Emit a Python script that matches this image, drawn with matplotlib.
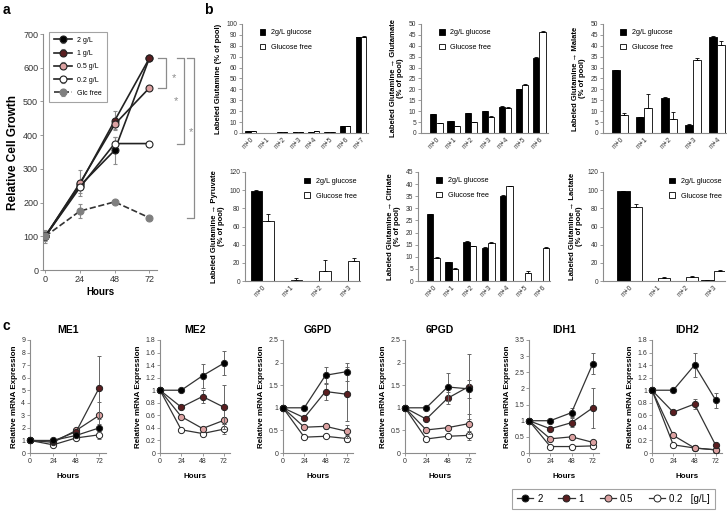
import numpy as np
import matplotlib
matplotlib.use("Agg")
import matplotlib.pyplot as plt
from matplotlib.lines import Line2D

plt.rcParams['font.family'] = ['Liberation Sans', 'DejaVu Sans']

W, H = 727, 515
fig = plt.figure(figsize=(W / 100, H / 100), dpi=100)

def ax_px(x0, y0, x1, y1):
    return fig.add_axes([x0 / W, 1 - y1 / H, (x1 - x0) / W, (y1 - y0) / H])

SP = '#8c8c8c'
BLK, MAR, PNK, WHT, GRY = '#000000', '#5a1e20', '#dca2a2', '#ffffff', '#7f7f7f'

def style(ax, fs):
    for s in ['top', 'right']:
        ax.spines[s].set_visible(False)
    for s in ['left', 'bottom']:
        ax.spines[s].set_color(SP)
        ax.spines[s].set_linewidth(0.8)
    ax.tick_params(colors=SP, labelcolor='#333333', labelsize=fs, length=2, width=0.6, pad=1.5)

# ---------------- Panel a data ----------------
hours = [0, 24, 48, 72]
a_labels = ['2 g/L', '1 g/L', '0.5 g/L', '0.2 g/L', 'Glc free']
a_2 = [100, 250, 355, 628]
a_2_err = [15, 10, 40, 5]
a_1 = [100, 255, 443, 628]
a_1_err = [10, 10, 28, 5]
a_05 = [100, 258, 432, 540]
a_05_err = [10, 38, 15, 5]
a_02 = [100, 245, 375, 375]
a_02_err = [10, 18, 20, 5]
a_gf = [100, 175, 202, 155]
a_gf_err = [20, 22, 5, 5]

ax = ax_px(43, 34, 157, 270)
style(ax, 6.5)
series_a = [(a_2, a_2_err, BLK, '-'), (a_1, a_1_err, MAR, '-'), (a_05, a_05_err, PNK, '-'),
            (a_02, a_02_err, WHT, '-'), (a_gf, a_gf_err, GRY, '--')]
for (vals, err, col, ls), lab in zip(series_a, a_labels):
    ax.errorbar(hours, vals, yerr=err, color='#222222' if col != GRY else '#333333', ls=ls, lw=1.2,
                marker='o', ms=5, mfc=col, mec='#222222' if col != GRY else GRY, mew=0.8,
                ecolor=SP, elinewidth=0.8, capsize=1.5, label=lab, zorder=3)
ax.set_xlim(-1.6, 77.3)
ax.set_ylim(0, 700)
ax.set_xticks(hours)
ax.set_yticks(range(0, 701, 100))
ax.set_xlabel('Hours', fontsize=7, fontweight='bold', labelpad=2)
ax.set_ylabel('Relative Cell Growth', fontsize=8.5, fontweight='bold', labelpad=3)
leg = ax.legend(loc='upper left', bbox_to_anchor=(49 / W, 1 - 32 / H), bbox_transform=fig.transFigure,
                fontsize=5, frameon=True, fancybox=False, borderaxespad=0, handlelength=2.6,
                labelspacing=0.9, borderpad=0.7)
leg.get_frame().set_edgecolor(SP)
leg.get_frame().set_linewidth(0.8)

# significance brackets (data coordinates beyond the axis; 1 h = 1.444 px)
def bracket(x0, x1, ytop, ybot, xs, ys):
    ax.plot([x0, x1, x1, x0], [ytop, ytop, ybot, ybot], color=SP, lw=0.9, clip_on=False)
    ax.text(xs, ys, '*', color=SP, fontsize=8, ha='center', va='center', clip_on=False)

bracket(78.2, 83.7, 628, 540, 89.0, 570)
bracket(91.4, 96.3, 628, 375, 90.5, 500)
bracket(97.8, 102.6, 628, 155, 101.0, 410)

fig.text(3 / W, 1 - 10 / H, 'a', fontsize=10, fontweight='bold', va='center')
fig.text(204 / W, 1 - 10 / H, 'b', fontsize=10, fontweight='bold', va='center')
fig.text(3 / W, 1 - 326 / H, 'c', fontsize=10, fontweight='bold', va='center')

# ---------------- Panel b data ----------------
gln_cats = ['m+0', 'm+1', 'm+2', 'm+3', 'm+4', 'm+5', 'm+6', 'm+7']
gln_glc = [2, 0.3, 0.5, 0.5, 1.0, 0.8, 6.5, 88]
gln_free = [2, 0.3, 0.5, 0.5, 1.5, 0.8, 6.0, 88.5]
gln_glc_err = [0.2, 0, 0, 0, 0.2, 0, 0.3, 0.4]
gln_free_err = [0.2, 0, 0, 0, 0.2, 0, 0.3, 0.4]

glu_cats = ['m+0', 'm+1', 'm+2', 'm+3', 'm+4', 'm+5', 'm+6']
glu_glc = [8.5, 5.5, 9.0, 10.0, 12.0, 20.0, 34.5]
glu_free = [4.5, 3.0, 5.0, 7.5, 11.5, 22.0, 46.5]
glu_glc_err = [0.2, 0.1, 0.2, 0.2, 0.2, 0.2, 0.2]
glu_free_err = [0.2, 0.2, 0.2, 0.2, 0.2, 0.5, 0.2]

mal_cats = ['m+0', 'm+1', 'm+2', 'm+3', 'm+4']
mal_glc = [28.8, 7.2, 16.0, 3.7, 44.2]
mal_free = [8.2, 11.6, 6.5, 33.7, 40.2]
mal_glc_err = [0.3, 0.2, 0.3, 0.3, 0.5]
mal_free_err = [1.0, 6.5, 3.0, 0.5, 2.0]

pyr_cats = ['m+0', 'm+1', 'm+2', 'm+3']
pyr_glc = [99.5, 0.0, 0.0, 0.5]
pyr_free = [66, 1.5, 11.5, 21.5]
pyr_glc_err = [0.3, 0, 0, 0]
pyr_free_err = [8, 1.5, 12, 4]

cit_cats = ['m+0', 'm+1', 'm+2', 'm+3', 'm+4', 'm+5', 'm+6']
cit_glc = [27.5, 7.8, 16.3, 13.8, 35.0, 0.0, 0.0]
cit_free = [9.7, 4.9, 14.3, 15.6, 39.2, 3.5, 13.7]
cit_glc_err = [0.3, 0.2, 0.2, 0.2, 0.3, 0, 0]
cit_free_err = [0.3, 0.6, 0.2, 0.3, 0.2, 0.8, 0.3]

lac_cats = ['m+0', 'm+1', 'm+2', 'm+3']
lac_glc = [99, 0.3, 0.5, 1.0]
lac_free = [82, 3.5, 4.5, 11]
lac_glc_err = [0.3, 0, 0, 0]
lac_free_err = [2.5, 0.5, 0.5, 1.0]

bar_labels = ['2g/L glucose', 'Glucose free']

def bar_panel(box, cats, glc, free, gerr, ferr, ymax, ystep, ylabel, xlim, bw, legloc):
    ax = ax_px(*box)
    style(ax, 4.8)
    x = np.arange(len(cats))
    ax.bar(x - bw / 2, glc, bw, color='black', edgecolor='black', lw=0.6,
           yerr=[np.zeros(len(gerr)), gerr], error_kw=dict(ecolor='black', elinewidth=0.6, capsize=1.2, capthick=0.6),
           label=bar_labels[0], zorder=2)
    ax.bar(x + bw / 2, free, bw, color='white', edgecolor='black', lw=0.6,
           yerr=[np.zeros(len(ferr)), ferr], error_kw=dict(ecolor='black', elinewidth=0.6, capsize=1.2, capthick=0.6),
           label=bar_labels[1], zorder=2)
    ax.set_xlim(*xlim)
    ax.set_ylim(0, ymax)
    ax.set_yticks(np.arange(0, ymax + 0.01, ystep))
    ax.set_xticks(x)
    ax.set_xticklabels(cats, rotation=45, ha='right', rotation_mode='anchor')
    ax.tick_params(axis='x', length=0, pad=2)
    ax.set_ylabel(ylabel, fontsize=5.5, fontweight='bold', labelpad=3, linespacing=1.1)
    if legloc == 'left':
        ax.legend(loc='upper left', bbox_to_anchor=(0.1, 1.0), fontsize=5.2, frameon=False,
                  handlelength=0.8, handleheight=0.8, labelspacing=1.0, borderaxespad=0.3)
    else:
        ax.legend(loc='upper right', bbox_to_anchor=(1.005, 0.98), fontsize=5.2, frameon=False,
                  handlelength=0.8, handleheight=0.8, labelspacing=1.0, borderaxespad=0.1)
    return ax

bar_panel((242, 24, 368, 133), gln_cats, gln_glc, gln_free, gln_glc_err, gln_free_err, 100, 10,
          'Labeled Glutamine (% of pool)', (-0.55, 7.45), 0.33, 'left')
bar_panel((421, 24, 548, 133), glu_cats, glu_glc, glu_free, glu_glc_err, glu_free_err, 50, 5,
          'Labeled Glutamine \u2192 Glutamate\n(% of pool)', (-0.9, 6.5), 0.36, 'left')
bar_panel((603, 24, 727, 133), mal_cats, mal_glc, mal_free, mal_glc_err, mal_free_err, 50, 5,
          'Labeled Glutamine \u2192 Malate\n(% of pool)', (-0.7, 4.4), 0.33, 'left')
bar_panel((245, 172, 360, 281), pyr_cats, pyr_glc, pyr_free, pyr_glc_err, pyr_free_err, 120, 20,
          'Labeled Glutamine \u2192 Pyruvate\n(% of pool)', (-0.6, 3.42), 0.4, 'right')
bar_panel((418, 172, 550, 281), cit_cats, cit_glc, cit_free, cit_glc_err, cit_free_err, 45, 5,
          'Labeled Glutamine \u2192 Citriate\n(% of pool)', (-0.85, 6.4), 0.36, 'left')
bar_panel((603, 172, 725, 281), lac_cats, lac_glc, lac_free, lac_glc_err, lac_free_err, 120, 20,
          'Labeled Glutamine \u2192 Lactate\n(% of pool)', (-0.95, 3.4), 0.45, 'right')

# ---------------- Panel c data ----------------
genes = ['ME1', 'ME2', 'G6PD', '6PGD', 'IDH1', 'IDH2']
conc_labels = ['2', '1', '0.5', '0.2']
conc_unit = '[g/L]'
me1 = [[1, 1.0, 1.4, 2.0], [1, 0.95, 1.7, 5.2], [1, 0.85, 1.8, 3.0], [1, 0.65, 1.2, 1.45]]
me1_err = [[0, 0.05, 0.1, 0.3], [0, 0.05, 0.2, 2.5], [0, 0.05, 0.2, 1.1], [0, 0.05, 0.1, 0.3]]
me2 = [[1, 1.0, 1.23, 1.43], [1, 0.73, 0.9, 0.73], [1, 0.58, 0.39, 0.52], [1, 0.37, 0.31, 0.38]]
me2_err = [[0, 0.03, 0.19, 0.19], [0, 0.03, 0.1, 0.35], [0, 0.02, 0.03, 0.06], [0, 0.02, 0.03, 0.08]]
g6pd = [[1, 1.0, 1.72, 1.8], [1, 0.78, 1.36, 1.3], [1, 0.57, 0.59, 0.48], [1, 0.35, 0.37, 0.32]]
g6pd_err = [[0, 0.02, 0.19, 0.2], [0, 0.03, 0.18, 0.6], [0, 0.02, 0.05, 0.15], [0, 0.02, 0.03, 0.08]]
pgd = [[1, 1.0, 1.46, 1.42], [1, 0.75, 1.21, 1.47], [1, 0.51, 0.56, 0.65], [1, 0.31, 0.37, 0.39]]
pgd_err = [[0, 0.02, 0.3, 0.2], [0, 0.03, 0.13, 0.72], [0, 0.02, 0.03, 0.22], [0, 0.02, 0.03, 0.1]]
idh1 = [[1, 1.0, 1.25, 2.77], [1, 0.75, 0.94, 1.4], [1, 0.44, 0.5, 0.33], [1, 0.2, 0.2, 0.22]]
idh1_err = [[0, 0.02, 0.15, 0.32], [0, 0.03, 0.15, 0.62], [0, 0.03, 0.04, 0.05], [0, 0.02, 0.02, 0.05]]
idh2 = [[1, 1.0, 1.4, 0.84], [1, 0.65, 0.78, 0.12], [1, 0.28, 0.08, 0.05], [1, 0.13, 0.08, 0.05]]
idh2_err = [[0, 0.02, 0.19, 0.12], [0, 0.03, 0.08, 0.03], [0, 0.02, 0.02, 0.02], [0, 0.02, 0.02, 0.02]]

c_data = [me1, me2, g6pd, pgd, idh1, idh2]
c_err = [me1_err, me2_err, g6pd_err, pgd_err, idh1_err, idh2_err]
c_ymax = [9, 1.8, 2.5, 2.5, 3.5, 1.8]
c_ystep = [1, 0.2, 0.5, 0.5, 0.5, 0.2]
c_x0 = [30, 160, 283, 405, 529, 652]
c_w = [76, 70, 70, 70, 70, 70]
c_cols = [BLK, MAR, PNK, WHT]

for i, g in enumerate(genes):
    x0 = c_x0[i]
    ax = ax_px(x0, 340, x0 + c_w[i], 453)
    style(ax, 5)
    for j in range(4):
        ax.errorbar(hours, c_data[i][j], yerr=c_err[i][j], color='#333333', lw=0.9, marker='o', ms=4.5,
                    mfc=c_cols[j], mec='#222222', mew=0.7, ecolor='#666666', elinewidth=0.7,
                    capsize=1.5, zorder=3 + (4 - j), clip_on=False)
    ax.set_xlim(0, 79)
    ax.set_ylim(0, c_ymax[i])
    ax.set_xticks(hours)
    yt = np.round(np.arange(0, c_ymax[i] + 1e-6, c_ystep[i]), 2)
    ax.set_yticks(yt)
    ax.set_yticklabels([('%g' % v) for v in yt])
    ax.set_title(g, fontsize=7.5, fontweight='bold', pad=5)
    ax.set_xlabel('Hours', fontsize=5.8, fontweight='bold', labelpad=6)
    ax.set_ylabel('Relative mRNA Expression', fontsize=5.8, fontweight='bold', labelpad=2)

handles = [Line2D([0], [0], color='#333333', lw=0.9, marker='o', ms=5, mfc=c, mec='#222222', mew=0.7)
           for c in c_cols]
labels = conc_labels[:-1] + [conc_labels[-1] + '   ' + conc_unit]
lg = fig.legend(handles, labels, loc='upper left', bbox_to_anchor=(512 / W, 1 - 489 / H), ncol=4,
                fontsize=7, frameon=True, fancybox=False, handlelength=1.7, columnspacing=1.6,
                handletextpad=0.4, borderaxespad=0, borderpad=0.5)
lg.get_frame().set_edgecolor(SP)
lg.get_frame().set_linewidth(0.8)

fig.savefig('out.png', dpi=100)
